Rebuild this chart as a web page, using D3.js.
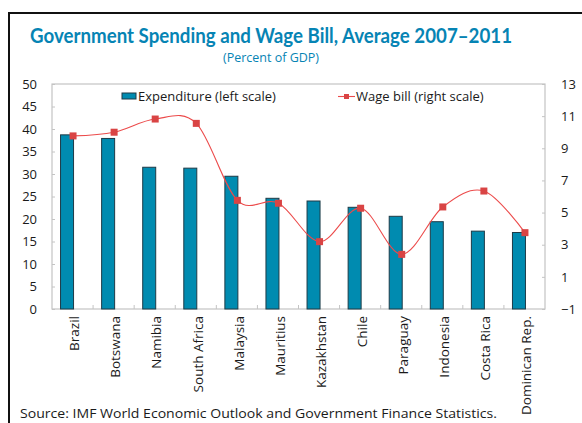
<!DOCTYPE html>
<html>
<head>
<meta charset="utf-8">
<script src="https://cdn.jsdelivr.net/npm/d3@7"></script>
<style>
  html, body { margin: 0; padding: 0; background: #fff; }
  svg { display: block; }
  text { font-family: "Open Sans", "Noto Sans", sans-serif; fill: #1a1a1a; }
</style>
</head>
<body>
<svg id="chart" width="582" height="423"></svg>
<script>
// Country categories
const countries = ["Brazil", "Botswana", "Namibia", "South Africa", "Malaysia", "Mauritius",
  "Kazakhstan", "Chile", "Paraguay", "Indonesia", "Costa Rica", "Dominican Rep."];
// Government expenditure, percent of GDP (left scale)
const expenditure = [38.7, 37.9, 31.5, 31.3, 29.5, 24.6, 24.0, 22.6, 20.6, 19.4, 17.3, 17.0];
// Wage bill, percent of GDP (right scale)
const wageBill = [9.77, 10.0, 10.82, 10.55, 5.76, 5.58, 3.19, 5.27, 2.40, 5.35, 6.34, 3.75];
// Axis ticks
const leftTicks = [0, 5, 10, 15, 20, 25, 30, 35, 40, 45, 50];
const rightTicks = [-1, 1, 3, 5, 7, 9, 11, 13];

const svg = d3.select("#chart");
const m = { left: 52, right: 545, top: 84, bottom: 309 };

const x = d3.scaleBand().domain(countries).range([m.left, m.right]);
const yL = d3.scaleLinear().domain([0, 50]).range([m.bottom, m.top]);
const yR = d3.scaleLinear().domain([-1, 13]).range([m.bottom, m.top]);
const cx = d => x(d) + x.bandwidth() / 2;

// Outer frame
svg.append("path")
  .attr("d", "M9,430 L9,13 L590,13")
  .attr("fill", "none").attr("stroke", "#111").attr("stroke-width", 2);

// Titles
svg.append("text").attr("x", 271).attr("y", 43).attr("text-anchor", "middle")
  .style("font-family", "Lato, 'Open Sans', sans-serif")
  .style("font-weight", "bold").style("font-size", "20px").style("fill", "#0684b4")
  .attr("textLength", 482).attr("lengthAdjust", "spacingAndGlyphs")
  .text("Government Spending and Wage Bill, Average 2007–2011");
svg.append("text").attr("x", 271).attr("y", 62).attr("text-anchor", "middle")
  .style("font-size", "12.5px").style("fill", "#0684b4")
  .text("(Percent of GDP)");

// Plot frame
svg.append("rect")
  .attr("x", m.left).attr("y", m.top)
  .attr("width", m.right - m.left).attr("height", m.bottom - m.top)
  .attr("fill", "none").attr("stroke", "#c4c4c4").attr("stroke-width", 1.2);

// Left axis
const gL = svg.append("g").attr("transform", `translate(${m.left},0)`)
  .call(d3.axisLeft(yL).tickValues(leftTicks).tickSize(-3).tickPadding(15));
gL.select(".domain").remove();
gL.selectAll("line").attr("stroke", "#c4c4c4");
gL.selectAll("text").style("font-size", "13px").style("font-family", "'Open Sans', sans-serif").attr("fill", "#1a1a1a");

// Right axis
const gR = svg.append("g").attr("transform", `translate(${m.right},0)`)
  .call(d3.axisRight(yR).tickValues(rightTicks).tickSize(-3).tickPadding(16));
gR.select(".domain").remove();
gR.selectAll("line").attr("stroke", "#c4c4c4");
gR.selectAll("text").style("font-size", "13px").style("font-family", "'Open Sans', sans-serif").attr("fill", "#1a1a1a");

// Category boundary ticks on the baseline
svg.append("g").selectAll("line").data(countries.slice(1)).join("line")
  .attr("x1", d => x(d)).attr("x2", d => x(d))
  .attr("y1", m.bottom).attr("y2", m.bottom - 4)
  .attr("stroke", "#c4c4c4");

// Category labels
svg.append("g").selectAll("text").data(countries).join("text")
  .attr("transform", d => `translate(${cx(d)},${m.bottom + 7}) rotate(-90)`)
  .attr("text-anchor", "end").attr("dy", "0.5em")
  .style("font-size", "13.5px")
  .text(d => d);

// Expenditure bars
const bw = 13;
svg.append("g").selectAll("rect").data(countries).join("rect")
  .attr("x", (d) => cx(d) - bw + 1)
  .attr("width", bw)
  .attr("y", (d, i) => yL(expenditure[i]))
  .attr("height", (d, i) => yL(0) - yL(expenditure[i]))
  .attr("fill", "#008bb0").attr("stroke", "#1e3b47").attr("stroke-width", 1);

// Wage bill smoothed line
const line = d3.line()
  .x((d, i) => cx(countries[i]) + 0.5)
  .y(d => yR(d))
  .curve(d3.curveCatmullRom.alpha(0));
svg.append("path").datum(wageBill)
  .attr("d", line).attr("fill", "none")
  .attr("stroke", "#ec4b4b").attr("stroke-width", 1.1);
svg.append("g").selectAll("rect").data(wageBill).join("rect")
  .attr("x", (d, i) => cx(countries[i]) + 0.5 - 3.5)
  .attr("y", d => yR(d) - 3.5)
  .attr("width", 7).attr("height", 7)
  .attr("fill", "#d94444");

// Legend
svg.append("rect").attr("x", 122).attr("y", 93).attr("width", 14).attr("height", 6)
  .attr("fill", "#008bb0").attr("stroke", "#1e3b47").attr("stroke-width", 1);
svg.append("text").attr("x", 138).attr("y", 101).style("font-size", "13px")
  .text("Expenditure (left scale)");
svg.append("line").attr("x1", 338).attr("x2", 355).attr("y1", 96.5).attr("y2", 96.5)
  .attr("stroke", "#ec4b4b").attr("stroke-width", 1.1);
svg.append("rect").attr("x", 344).attr("y", 94).attr("width", 5).attr("height", 5)
  .attr("fill", "#d94444");
svg.append("text").attr("x", 356).attr("y", 101).style("font-size", "13px")
  .text("Wage bill (right scale)");

// Source note
svg.append("text").attr("x", 20).attr("y", 418).style("font-size", "13.5px")
  .attr("textLength", 477).attr("lengthAdjust", "spacingAndGlyphs")
  .text("Source: IMF World Economic Outlook and Government Finance Statistics.");
</script>
</body>
</html>
